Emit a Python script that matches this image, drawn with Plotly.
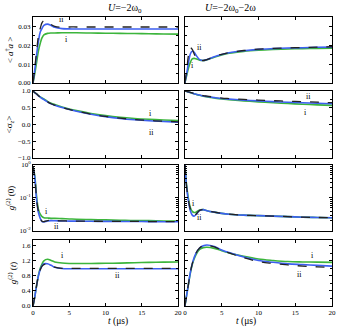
import math
import plotly.graph_objects as go

# time grid (microseconds)
t = [0, 0.25, 0.5, 0.75, 1, 1.25, 1.5, 2, 2.5, 3, 4, 5, 6, 8, 10, 12, 14, 16, 18, 20]

# <a+a>, U = -2w0
n_left_i = [0, 0.005, 0.011, 0.017, 0.021, 0.024, 0.0255, 0.0263, 0.0265, 0.0265, 0.0266, 0.0266, 0.0266, 0.0265, 0.0264, 0.0263, 0.0262, 0.0261, 0.026, 0.0259]
n_left_ii = [0, 0.007, 0.015, 0.022, 0.027, 0.029, 0.0305, 0.0312, 0.0305, 0.0295, 0.0288, 0.0287, 0.0286, 0.0286, 0.0286, 0.0286, 0.0286, 0.0286, 0.0286, 0.0286]
n_left_ex = [0, 0.008, 0.017, 0.025, 0.029, 0.032, 0.033, 0.0325, 0.031, 0.030, 0.0296, 0.0297, 0.0297, 0.0297, 0.0297, 0.0297, 0.0297, 0.0297, 0.0297, 0.0297]
# <a+a>, U = -2w0-2w
n_right_i = [0, 0.004, 0.008, 0.011, 0.0127, 0.0130, 0.0128, 0.0121, 0.0119, 0.0123, 0.0136, 0.0148, 0.0157, 0.0167, 0.0173, 0.0177, 0.0180, 0.0182, 0.0183, 0.0184]
n_right_ii = [0, 0.005, 0.011, 0.0155, 0.0168, 0.0163, 0.0148, 0.0124, 0.0119, 0.0124, 0.0139, 0.0151, 0.0160, 0.0171, 0.0178, 0.0182, 0.0185, 0.0187, 0.0189, 0.0190]
n_right_ex = [0, 0.007, 0.015, 0.0186, 0.0178, 0.0155, 0.0135, 0.0120, 0.0119, 0.0124, 0.0140, 0.0152, 0.0161, 0.0172, 0.0179, 0.0183, 0.0186, 0.0188, 0.0190, 0.0192]

# <sigma_z>
sz_left_i = [1.0, 0.95, 0.91, 0.865, 0.825, 0.79, 0.76, 0.69, 0.635, 0.595, 0.525, 0.465, 0.415, 0.33, 0.265, 0.215, 0.18, 0.155, 0.135, 0.12]
sz_left_ii = [1.0, 0.95, 0.905, 0.855, 0.815, 0.775, 0.745, 0.675, 0.615, 0.575, 0.505, 0.445, 0.395, 0.305, 0.235, 0.18, 0.14, 0.11, 0.09, 0.07]
sz_left_ex = [1.0, 0.95, 0.91, 0.86, 0.82, 0.78, 0.75, 0.68, 0.62, 0.58, 0.51, 0.45, 0.40, 0.31, 0.24, 0.19, 0.15, 0.12, 0.10, 0.08]
sz_right_i = [1.0, 0.985, 0.97, 0.95, 0.935, 0.915, 0.9, 0.87, 0.845, 0.825, 0.79, 0.76, 0.74, 0.705, 0.675, 0.65, 0.625, 0.605, 0.585, 0.57]
sz_right_ii = [1.0, 0.985, 0.97, 0.952, 0.937, 0.92, 0.905, 0.878, 0.853, 0.835, 0.803, 0.775, 0.757, 0.728, 0.705, 0.683, 0.665, 0.648, 0.633, 0.62]
sz_right_ex = [1.0, 0.985, 0.97, 0.955, 0.94, 0.925, 0.91, 0.885, 0.86, 0.845, 0.815, 0.79, 0.775, 0.75, 0.73, 0.71, 0.695, 0.68, 0.665, 0.65]

# g2(0)
g0_left_i = [0.9, 0.45, 0.11, 0.045, 0.032, 0.027, 0.025, 0.0245, 0.024, 0.024, 0.0235, 0.023, 0.0225, 0.022, 0.0215, 0.021, 0.0205, 0.0205, 0.020, 0.020]
g0_left_ii = [0.9, 0.41, 0.085, 0.036, 0.024, 0.019, 0.0188, 0.020, 0.0205, 0.0202, 0.020, 0.0198, 0.0197, 0.0195, 0.0194, 0.0193, 0.0192, 0.0191, 0.019, 0.019]
g0_left_ex = [0.9, 0.42, 0.09, 0.038, 0.025, 0.0195, 0.019, 0.0205, 0.0207, 0.0204, 0.0201, 0.0199, 0.0198, 0.0196, 0.0195, 0.0194, 0.0193, 0.0192, 0.0191, 0.019]
g0_right_i = [1.0, 0.22, 0.09, 0.05, 0.039, 0.036, 0.037, 0.043, 0.044, 0.041, 0.037, 0.034, 0.032, 0.030, 0.029, 0.028, 0.027, 0.026, 0.0255, 0.025]
g0_right_ii = [1.0, 0.2, 0.075, 0.04, 0.030, 0.028, 0.031, 0.041, 0.044, 0.041, 0.037, 0.034, 0.032, 0.030, 0.029, 0.028, 0.027, 0.026, 0.0255, 0.025]
g0_right_ex = [1.0, 0.2, 0.08, 0.045, 0.032, 0.029, 0.032, 0.042, 0.044, 0.041, 0.037, 0.034, 0.032, 0.030, 0.029, 0.028, 0.027, 0.026, 0.0255, 0.025]

# g2(t)
gt_left_i = [0, 0.25, 0.55, 0.82, 1.0, 1.12, 1.2, 1.24, 1.21, 1.17, 1.14, 1.13, 1.13, 1.13, 1.135, 1.14, 1.15, 1.16, 1.165, 1.17]
gt_left_ii = [0, 0.25, 0.55, 0.8, 0.97, 1.07, 1.12, 1.12, 1.08, 1.03, 0.995, 0.99, 0.99, 0.99, 0.99, 0.99, 0.99, 0.99, 0.99, 0.99]
gt_left_ex = [0, 0.25, 0.55, 0.8, 0.96, 1.06, 1.1, 1.11, 1.07, 1.03, 1.0, 1.0, 1.0, 1.0, 1.0, 1.0, 1.0, 1.0, 1.0, 1.0]
gt_right_i = [0, 0.3, 0.6, 0.88, 1.1, 1.25, 1.36, 1.5, 1.55, 1.56, 1.53, 1.47, 1.41, 1.32, 1.25, 1.21, 1.18, 1.17, 1.165, 1.16]
gt_right_ii = [0, 0.3, 0.6, 0.9, 1.12, 1.28, 1.4, 1.54, 1.6, 1.62, 1.58, 1.49, 1.42, 1.3, 1.21, 1.16, 1.12, 1.1, 1.08, 1.06]
gt_right_ex = [0, 0.3, 0.6, 0.9, 1.12, 1.28, 1.4, 1.54, 1.6, 1.61, 1.57, 1.48, 1.41, 1.28, 1.18, 1.13, 1.09, 1.06, 1.04, 1.02]

GREEN = "#3cb53c"
BLUE = "#3c5ff0"
FONT = "Liberation Serif"

panels = [
    (n_left_i, n_left_ii, n_left_ex), (n_right_i, n_right_ii, n_right_ex),
    (sz_left_i, sz_left_ii, sz_left_ex), (sz_right_i, sz_right_ii, sz_right_ex),
    (g0_left_i, g0_left_ii, g0_left_ex), (g0_right_i, g0_right_ii, g0_right_ex),
    (gt_left_i, gt_left_ii, gt_left_ex), (gt_right_i, gt_right_ii, gt_right_ex),
]

row_dom = [[0.772, 1.0], [0.512, 0.744], [0.26, 0.488], [0.0, 0.228]]
col_dom = [[0.0, 0.485], [0.508, 1.0]]

yinfo = [
    dict(range=[0, 0.035], tickvals=[0, 0.01, 0.02, 0.03], tickformat=".2f", minor=0.005,
         title="< <i>a</i><sup>†</sup><i>a</i> >"),
    dict(range=[-1, 1], tickvals=[-1, -0.5, 0, 0.5, 1], tickformat=".1f", minor=0.25,
         title="<σ<sub>z</sub>>"),
    dict(range=[-2, 0], log=True, title="<i>g</i><sup>(2)</sup> (0)"),
    dict(range=[0, 1.75], tickvals=[0, 0.4, 0.8, 1.2, 1.6], tickformat=".1f", minor=0.2,
         title="<i>g</i><sup>(2)</sup> (<i>t</i>)"),
]

fig = go.Figure()
layout = {}
for k, (ci, cii, cex) in enumerate(panels):
    r, c = divmod(k, 2)
    n = k + 1
    xa = "x" if n == 1 else "x%d" % n
    ya = "y" if n == 1 else "y%d" % n
    fig.add_trace(go.Scatter(x=t, y=ci, xaxis=xa, yaxis=ya, mode="lines",
                             line=dict(color=GREEN, width=1.6, shape="spline"), showlegend=False))
    fig.add_trace(go.Scatter(x=t, y=cii, xaxis=xa, yaxis=ya, mode="lines",
                             line=dict(color=BLUE, width=1.6, shape="spline"), showlegend=False))
    fig.add_trace(go.Scatter(x=t, y=cex, xaxis=xa, yaxis=ya, mode="lines",
                             line=dict(color="#222222", width=1.3, dash="dash", shape="spline"), showlegend=False))

    common = dict(showline=True, linecolor="black", linewidth=1, mirror="ticks",
                  ticks="inside", ticklen=3, tickcolor="black", showgrid=False, zeroline=False,
                  tickfont=dict(family=FONT, size=7, color="black"))
    xax = dict(common, domain=col_dom[c], anchor=ya, range=[0, 20], tickvals=[0, 5, 10, 15, 20],
               showticklabels=(r == 3))
    info = yinfo[r]
    yax = dict(common, domain=row_dom[r], anchor=xa, showticklabels=(c == 0))
    if info.get("log"):
        yax.update(type="log", range=info["range"], tickvals=[0.01, 0.1, 1],
                   ticktext=["10<sup>-2</sup>", "10<sup>-1</sup>", "10<sup>0</sup>"],
                   minor=dict(ticks="inside", ticklen=2, tickcolor="black",
                              tickvals=[m * 10 ** e for e in (-2, -1) for m in range(2, 10)]))
    else:
        yax.update(range=info["range"], tickvals=info["tickvals"], tickformat=info["tickformat"],
                   minor=dict(ticks="inside", ticklen=2, tickcolor="black", dtick=info["minor"]))
    if c == 0:
        yax["title"] = dict(text=info["title"], font=dict(family=FONT, size=9), standoff=3)
    layout["xaxis" if n == 1 else "xaxis%d" % n] = xax
    layout["yaxis" if n == 1 else "yaxis%d" % n] = yax

fig.update_layout(**layout)

# curve labels (i / ii)
labels = [
    ("x", "y", 3.9, 0.0335, "ii"), ("x", "y", 4.6, 0.0228, "i"),
    ("x2", "y2", 2.0, 0.0186, "ii"), ("x2", "y2", 1.07, 0.0095, "i"),
    ("x3", "y3", 16.2, 0.32, "i"), ("x3", "y3", 16.3, -0.24, "ii"),
    ("x4", "y4", 16.8, 0.85, "ii"), ("x4", "y4", 16.4, 0.37, "i"),
    ("x5", "y5", 1.9, 0.038, "i"), ("x5", "y5", 3.3, 0.014, "ii"),
    ("x6", "y6", 1.2, 0.07, "i"), ("x6", "y6", 2.0, 0.026, "ii"),
    ("x7", "y7", 4.1, 1.33, "i"), ("x7", "y7", 11.6, 0.82, "ii"),
    ("x8", "y8", 17.4, 1.33, "i"), ("x8", "y8", 15.6, 0.84, "ii"),
]
for xr, yr, xv, yv, txt in labels:
    ylog = yr in ("y5", "y6")
    fig.add_annotation(x=xv, y=(math.log10(yv) if ylog else yv), xref=xr, yref=yr,
                       text=txt, showarrow=False, font=dict(family=FONT, size=8, color="black"))

for xc, txt in [(0.2425, "<i>U</i>=−2ω<sub>0</sub>"), (0.754, "<i>U</i>=−2ω<sub>0</sub>−2ω")]:
    fig.add_annotation(x=xc, y=1.0, xref="paper", yref="paper", yanchor="bottom", yshift=0,
                       text=txt, showarrow=False, font=dict(family=FONT, size=10, color="black"))

for xc in (0.2425, 0.754):
    fig.add_annotation(x=xc, y=0, xref="paper", yref="paper", yanchor="top", yshift=-8,
                       text="<i>t</i> (μs)", showarrow=False,
                       font=dict(family=FONT, size=9.5, color="black"))

fig.update_layout(width=340, height=330, margin=dict(l=33, r=4, t=17, b=24),
                  paper_bgcolor="white", plot_bgcolor="white",
                  font=dict(family=FONT, color="black"))

# the page body has a default 8px margin; drop it so the figure fills the window
fig.write_html("out.html", config={"displayModeBar": False},
               post_script="document.body.style.margin='0';")
